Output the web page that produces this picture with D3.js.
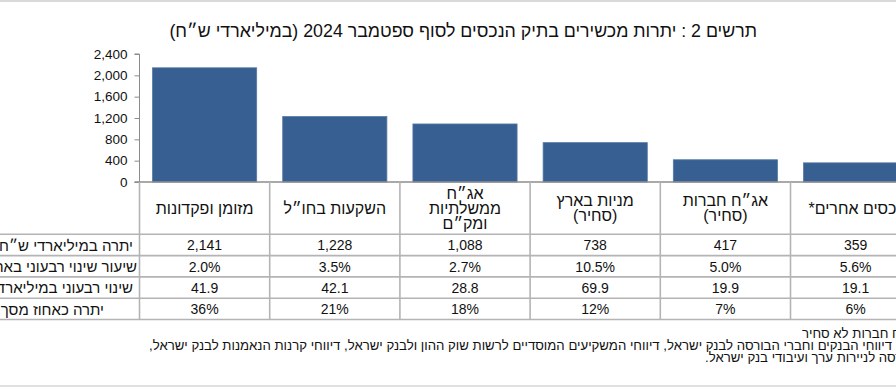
<!DOCTYPE html>
<html><head><meta charset="utf-8">
<script src="https://cdn.jsdelivr.net/npm/d3@7"></script>
<style>
html,body{margin:0;padding:0;background:#fff;overflow:hidden;}
svg{display:block;font-family:"Liberation Sans",Arial,sans-serif;}
.heb{font-family:"Liberation Sans",Arial,sans-serif;}
</style></head>
<body>
<svg id="chart" width="896" height="388"></svg>
<script>
// ---- data ----
const title = "תרשים 2 : יתרות מכשירים בתיק הנכסים לסוף ספטמבר 2024 (במיליארדי ש״ח)";
const categories = [
  ["מזומן ופקדונות"],
  ["השקעות בחו״ל"],
  ["אג״ח", "ממשלתיות", "ומק״ם"],
  ["מניות בארץ", "(סחיר)"],
  ["אג״ח חברות", "(סחיר)"],
  ["נכסים אחרים*"]
];
const balances = [2141, 1228, 1088, 738, 417, 359];
const quarterlyPct = ["2.0%", "3.5%", "2.7%", "10.5%", "5.0%", "5.6%"];
const quarterlyBn = ["41.9", "42.1", "28.8", "69.9", "19.9", "19.1"];
const shareOfTotal = ["36%", "21%", "18%", "12%", "7%", "6%"];
const rowLabels = [
  "יתרה במיליארדי ש״ח",
  "שיעור שינוי רבעוני באחוזים",
  "שינוי רבעוני במיליארדי ש״ח",
  "יתרה כאחוז מסך התיק"
];
const yTicks = [0, 400, 800, 1200, 1600, 2000, 2400];
const footnotes = [
  "* כולל אג״ח חברות לא סחיר",
  "המקור: דיווחי הבנקים וחברי הבורסה לבנק ישראל, דיווחי המשקיעים המוסדיים לרשות שוק ההון ולבנק ישראל, דיווחי קרנות הנאמנות לבנק ישראל,",
  "הבורסה לניירות ערך ועיבודי בנק ישראל."
];

// ---- layout ----
const svg = d3.select("#chart");
const W = 896, H = 388;
const plotLeft = 139.5, catW = 130.2;
const plotRight = plotLeft + catW * categories.length;
const y0 = 182, yTop = 54;
const gridColor = "#b4b4b4";

svg.append("line").attr("x1",0).attr("x2",W).attr("y1",1).attr("y2",1)
  .attr("stroke","#d9d9d9").attr("stroke-width",2);
svg.append("line").attr("x1",0).attr("x2",W).attr("y1",386).attr("y2",386)
  .attr("stroke","#e0e0e0").attr("stroke-width",2);

svg.append("text").attr("class","heb").attr("x",757).attr("y",37).attr("text-anchor","start")
  .attr("font-size",17.8).attr("fill","#111").attr("direction","rtl").style("unicode-bidi","plaintext")
  .text(title);

const x = d3.scaleBand().domain(d3.range(categories.length)).range([plotLeft, plotRight]).paddingInner(0.2).paddingOuter(0.1);
const y = d3.scaleLinear().domain([0, 2400]).range([y0, yTop]);

// bars
svg.append("g").selectAll("rect").data(balances).join("rect")
  .attr("x",(d,i)=>x(i)).attr("width",x.bandwidth())
  .attr("y",d=>y(d)).attr("height",d=>y0-y(d))
  .attr("fill","#375f91").attr("stroke","#5579a6").attr("stroke-width",0.8);

// y axis
const yAxis = svg.append("g").attr("transform",`translate(${plotLeft},0)`)
  .call(d3.axisLeft(y).tickValues(yTicks).tickSize(5).tickPadding(7).tickFormat(d3.format(",")));
yAxis.select(".domain").attr("stroke","#8c8c8c").attr("d",`M-5,${yTop}H0V${y0}`);
yAxis.selectAll(".tick line").attr("stroke","#8c8c8c");
yAxis.selectAll(".tick text").attr("font-size",13.5).attr("fill","#111")
  .attr("font-family","Liberation Sans, Arial, sans-serif");

// table
const headerBottom = 234.3;
const rowH = 21.3;
const rowLines = d3.range(5).map(i => headerBottom + i*rowH);
const tg = svg.append("g");
tg.append("line").attr("x1",plotLeft-5).attr("x2",W).attr("y1",y0).attr("y2",y0).attr("stroke","#8c8c8c").attr("stroke-width",1.3);
tg.selectAll("line.h").data(rowLines).join("line").attr("class","h")
  .attr("x1",0).attr("x2",W).attr("y1",d=>d).attr("y2",d=>d)
  .attr("stroke",gridColor).attr("stroke-width",1.6);
tg.selectAll("line.v").data(d3.range(categories.length+1)).join("line").attr("class","v")
  .attr("x1",i=>plotLeft + i*catW).attr("x2",i=>plotLeft + i*catW)
  .attr("y1",y0).attr("y2",rowLines[4])
  .attr("stroke",gridColor).attr("stroke-width",1.6);

// headers
const headG = tg.append("g");
categories.forEach((lines,i)=>{
  const cx = plotLeft + (i+0.5)*catW;
  const lh = 15;
  const cy = (y0 + headerBottom)/2;
  lines.forEach((t,j)=>{
    headG.append("text").attr("class","heb").attr("x",cx).attr("y",cy + (j-(lines.length-1)/2)*lh)
      .attr("dy","0.35em").attr("text-anchor","middle").attr("font-size",16)
      .attr("fill","#111").attr("direction","rtl").style("unicode-bidi","plaintext").text(t);
  });
});

// values
const fmt = d3.format(",");
const rows = [balances.map(fmt), quarterlyPct, quarterlyBn, shareOfTotal];
rows.forEach((vals,r)=>{
  const cy = rowLines[r] + rowH/2 + 0.5;
  tg.append("g").selectAll("text").data(vals).join("text")
    .attr("x",(d,i)=>plotLeft + (i+0.5)*catW).attr("y",cy).attr("dy","0.35em")
    .attr("text-anchor","middle").attr("font-size",14).attr("fill","#111").text(d=>d);
});
const labelRight = [133, 137, 133, 104];
rowLabels.forEach((t,r)=>{
  tg.append("text").attr("class","heb").attr("x",labelRight[r]).attr("y",rowLines[r] + rowH/2 + 0.5).attr("dy","0.35em")
    .attr("text-anchor","start").attr("direction","rtl").style("unicode-bidi","plaintext")
    .attr("font-size",15).attr("fill","#111").text(t);
});

// footnotes (anchored at their visible left ends)
const fnLeft = [802, 149, 705];
footnotes.forEach((t,i)=>{
  svg.append("text").attr("class","heb").attr("x",fnLeft[i]).attr("y",338 + i*11.8)
    .attr("text-anchor","end").attr("direction","rtl").style("unicode-bidi","plaintext")
    .attr("font-size",13.2).attr("fill","#111").text(t);
});
</script>
</body></html>
